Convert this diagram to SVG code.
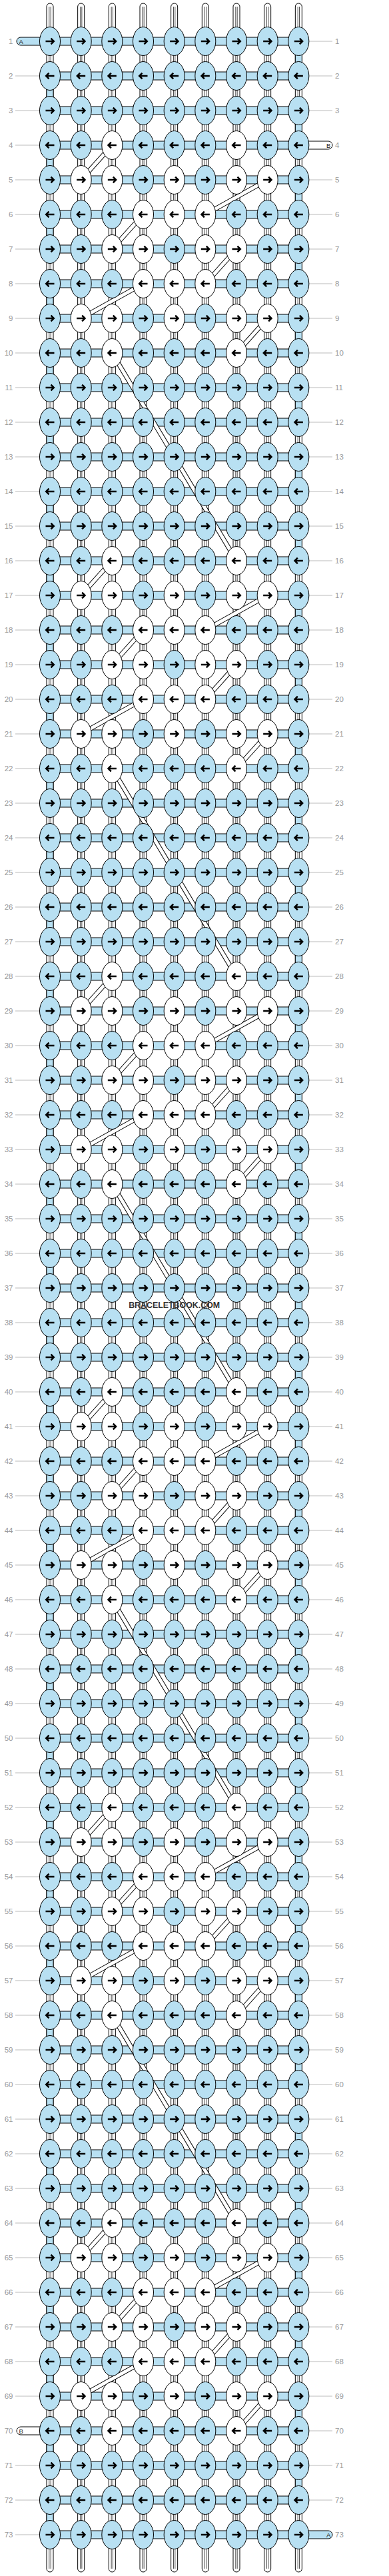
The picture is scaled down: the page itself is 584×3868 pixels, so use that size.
<svg xmlns="http://www.w3.org/2000/svg" xmlns:xlink="http://www.w3.org/1999/xlink" width="584" height="3868" viewBox="0 0 584 3868">
<style>
.kb{fill:#b8e0f2;stroke:#000;stroke-width:1}
.kw{fill:#fff;stroke:#000;stroke-width:1}
.ar{fill:none;stroke:#000;stroke-width:2.5}
.hc{fill:#b8e0f2;stroke:#000;stroke-width:1}
.vs{fill:#fff;stroke:#000;stroke-width:1}
.il{fill:none;stroke:#000;stroke-width:0.7}
.dk{fill:none;stroke:#000;stroke-width:7}
.dw{fill:none;stroke:#fff;stroke-width:5}
.gl{fill:none;stroke:#bbb;stroke-width:1}
.lb{font-family:"Liberation Sans",Arial,sans-serif;font-size:11.5px;fill:#999}
.le{text-anchor:end}
.sl{font-family:"Liberation Sans",Arial,sans-serif;font-size:9.5px;fill:#222}
.wm{font-family:"Liberation Sans",Arial,sans-serif;font-size:13px;font-weight:bold;fill:#333;text-anchor:middle}
</style>
<defs>
<g id="BR"><ellipse rx="15.5" ry="21.5" class="kb"/><path class="ar" d="M-6.5 0H5.5M1.5-4.3L5.8 0 1.5 4.3"/></g>
<g id="BL"><ellipse rx="15.5" ry="21.5" class="kb"/><path class="ar" d="M6.5 0H-5.5M-1.5-4.3L-5.8 0-1.5 4.3"/></g>
<g id="WR"><ellipse rx="15.5" ry="21.5" class="kw"/><path class="ar" d="M-6.5 0H5.5M1.5-4.3L5.8 0 1.5 4.3"/></g>
<g id="WL"><ellipse rx="15.5" ry="21.5" class="kw"/><path class="ar" d="M6.5 0H-5.5M-1.5-4.3L-5.8 0-1.5 4.3"/></g>
<path id="dg" d="M168.33 0L121.67 52M401.67 52L308.33 104M215 104L168.33 156M355 156L308.33 208M215 208L121.67 260M401.67 260L355 312"/>
<path id="dl" d="M168.33 312L355 624"/>
</defs>
<rect width="584" height="3868" fill="#fff"/>
<g id="connectors">
<g id="strands">
<rect x="70" y="5" width="10" height="3857" rx="5" class="vs"/>
<rect x="116.67" y="5" width="10" height="3857" rx="5" class="vs"/>
<rect x="163.33" y="5" width="10" height="3857" rx="5" class="vs"/>
<rect x="210" y="5" width="10" height="3857" rx="5" class="vs"/>
<rect x="256.67" y="5" width="10" height="3857" rx="5" class="vs"/>
<rect x="303.33" y="5" width="10" height="3857" rx="5" class="vs"/>
<rect x="350" y="5" width="10" height="3857" rx="5" class="vs"/>
<rect x="396.67" y="5" width="10" height="3857" rx="5" class="vs"/>
<rect x="443.33" y="5" width="10" height="3857" rx="5" class="vs"/>
<path class="il" d="M73.8 10V3857M76.2 10V3857M120.47 10V3857M122.87 10V3857M167.13 10V3857M169.53 10V3857M213.8 10V3857M216.2 10V3857M260.47 10V3857M262.87 10V3857M307.13 10V3857M309.53 10V3857M353.8 10V3857M356.2 10V3857M400.47 10V3857M402.87 10V3857M447.13 10V3857M449.53 10V3857"/>
</g>
<path id="turns" class="hc" d="M443.33 77h10v22h-10zM443.33 181h10v22h-10zM443.33 285h10v22h-10zM443.33 389h10v22h-10zM443.33 493h10v22h-10zM443.33 597h10v22h-10zM443.33 701h10v22h-10zM443.33 805h10v22h-10zM443.33 909h10v22h-10zM443.33 1013h10v22h-10zM443.33 1117h10v22h-10zM443.33 1221h10v22h-10zM443.33 1325h10v22h-10zM443.33 1429h10v22h-10zM443.33 1533h10v22h-10zM443.33 1637h10v22h-10zM443.33 1741h10v22h-10zM443.33 1845h10v22h-10zM443.33 1949h10v22h-10zM443.33 2053h10v22h-10zM443.33 2157h10v22h-10zM443.33 2261h10v22h-10zM443.33 2365h10v22h-10zM443.33 2469h10v22h-10zM443.33 2573h10v22h-10zM443.33 2677h10v22h-10zM443.33 2781h10v22h-10zM443.33 2885h10v22h-10zM443.33 2989h10v22h-10zM443.33 3093h10v22h-10zM443.33 3197h10v22h-10zM443.33 3301h10v22h-10zM443.33 3405h10v22h-10zM443.33 3509h10v22h-10zM443.33 3613h10v22h-10zM443.33 3717h10v22h-10zM70 129h10v22h-10zM70 233h10v22h-10zM70 337h10v22h-10zM70 441h10v22h-10zM70 545h10v22h-10zM70 649h10v22h-10zM70 753h10v22h-10zM70 857h10v22h-10zM70 961h10v22h-10zM70 1065h10v22h-10zM70 1169h10v22h-10zM70 1273h10v22h-10zM70 1377h10v22h-10zM70 1481h10v22h-10zM70 1585h10v22h-10zM70 1689h10v22h-10zM70 1793h10v22h-10zM70 1897h10v22h-10zM70 2001h10v22h-10zM70 2105h10v22h-10zM70 2209h10v22h-10zM70 2313h10v22h-10zM70 2417h10v22h-10zM70 2521h10v22h-10zM70 2625h10v22h-10zM70 2729h10v22h-10zM70 2833h10v22h-10zM70 2937h10v22h-10zM70 3041h10v22h-10zM70 3145h10v22h-10zM70 3249h10v22h-10zM70 3353h10v22h-10zM70 3457h10v22h-10zM70 3561h10v22h-10zM70 3665h10v22h-10zM70 3769h10v22h-10z"/>
<path id="rows" class="hc" d="M75 56h373.33v12H75zM75 108h373.33v12H75zM75 160h373.33v12H75zM75 212h373.33v12H75zM75 264h373.33v12H75zM75 316h373.33v12H75zM75 368h373.33v12H75zM75 420h373.33v12H75zM75 472h373.33v12H75zM75 524h373.33v12H75zM75 576h373.33v12H75zM75 628h373.33v12H75zM75 680h373.33v12H75zM75 732h373.33v12H75zM75 784h373.33v12H75zM75 836h373.33v12H75zM75 888h373.33v12H75zM75 940h373.33v12H75zM75 992h373.33v12H75zM75 1044h373.33v12H75zM75 1096h373.33v12H75zM75 1148h373.33v12H75zM75 1200h373.33v12H75zM75 1252h373.33v12H75zM75 1304h373.33v12H75zM75 1356h373.33v12H75zM75 1408h373.33v12H75zM75 1460h373.33v12H75zM75 1512h373.33v12H75zM75 1564h373.33v12H75zM75 1616h373.33v12H75zM75 1668h373.33v12H75zM75 1720h373.33v12H75zM75 1772h373.33v12H75zM75 1824h373.33v12H75zM75 1876h373.33v12H75zM75 1928h373.33v12H75zM75 1980h373.33v12H75zM75 2032h373.33v12H75zM75 2084h373.33v12H75zM75 2136h373.33v12H75zM75 2188h373.33v12H75zM75 2240h373.33v12H75zM75 2292h373.33v12H75zM75 2344h373.33v12H75zM75 2396h373.33v12H75zM75 2448h373.33v12H75zM75 2500h373.33v12H75zM75 2552h373.33v12H75zM75 2604h373.33v12H75zM75 2656h373.33v12H75zM75 2708h373.33v12H75zM75 2760h373.33v12H75zM75 2812h373.33v12H75zM75 2864h373.33v12H75zM75 2916h373.33v12H75zM75 2968h373.33v12H75zM75 3020h373.33v12H75zM75 3072h373.33v12H75zM75 3124h373.33v12H75zM75 3176h373.33v12H75zM75 3228h373.33v12H75zM75 3280h373.33v12H75zM75 3332h373.33v12H75zM75 3384h373.33v12H75zM75 3436h373.33v12H75zM75 3488h373.33v12H75zM75 3540h373.33v12H75zM75 3592h373.33v12H75zM75 3644h373.33v12H75zM75 3696h373.33v12H75zM75 3748h373.33v12H75zM75 3800h373.33v12H75z"/>
<g id="stubs">
<rect x="25" y="56" width="45" height="12" rx="6" class="hc"/>
<rect x="455" y="212" width="44" height="12" rx="6" class="vs"/>
<rect x="25" y="3644" width="45" height="12" rx="6" class="vs"/>
<rect x="455" y="3800" width="44" height="12" rx="6" class="hc"/>
</g>
<g id="diagonals">
<use href="#dg" y="218" class="dk"/><use href="#dg" y="842" class="dk"/><use href="#dg" y="1466" class="dk"/><use href="#dg" y="2090" class="dk"/><use href="#dg" y="2714" class="dk"/><use href="#dg" y="3338" class="dk"/>
<use href="#dl" y="218" class="dk"/><use href="#dl" y="842" class="dk"/><use href="#dl" y="1466" class="dk"/><use href="#dl" y="2090" class="dk"/><use href="#dl" y="2714" class="dk"/>
<use href="#dg" y="218" class="dw"/><use href="#dg" y="842" class="dw"/><use href="#dg" y="1466" class="dw"/><use href="#dg" y="2090" class="dw"/><use href="#dg" y="2714" class="dw"/><use href="#dg" y="3338" class="dw"/>
<use href="#dl" y="218" class="dw"/><use href="#dl" y="842" class="dw"/><use href="#dl" y="1466" class="dw"/><use href="#dl" y="2090" class="dw"/><use href="#dl" y="2714" class="dw"/>
</g>
</g>
<g id="labels">
<path class="gl" d="M464 62H499M23 114H60M464 114H499M23 166H60M464 166H499M23 218H60M23 270H60M464 270H499M23 322H60M464 322H499M23 374H60M464 374H499M23 426H60M464 426H499M23 478H60M464 478H499M23 530H60M464 530H499M23 582H60M464 582H499M23 634H60M464 634H499M23 686H60M464 686H499M23 738H60M464 738H499M23 790H60M464 790H499M23 842H60M464 842H499M23 894H60M464 894H499M23 946H60M464 946H499M23 998H60M464 998H499M23 1050H60M464 1050H499M23 1102H60M464 1102H499M23 1154H60M464 1154H499M23 1206H60M464 1206H499M23 1258H60M464 1258H499M23 1310H60M464 1310H499M23 1362H60M464 1362H499M23 1414H60M464 1414H499M23 1466H60M464 1466H499M23 1518H60M464 1518H499M23 1570H60M464 1570H499M23 1622H60M464 1622H499M23 1674H60M464 1674H499M23 1726H60M464 1726H499M23 1778H60M464 1778H499M23 1830H60M464 1830H499M23 1882H60M464 1882H499M23 1934H60M464 1934H499M23 1986H60M464 1986H499M23 2038H60M464 2038H499M23 2090H60M464 2090H499M23 2142H60M464 2142H499M23 2194H60M464 2194H499M23 2246H60M464 2246H499M23 2298H60M464 2298H499M23 2350H60M464 2350H499M23 2402H60M464 2402H499M23 2454H60M464 2454H499M23 2506H60M464 2506H499M23 2558H60M464 2558H499M23 2610H60M464 2610H499M23 2662H60M464 2662H499M23 2714H60M464 2714H499M23 2766H60M464 2766H499M23 2818H60M464 2818H499M23 2870H60M464 2870H499M23 2922H60M464 2922H499M23 2974H60M464 2974H499M23 3026H60M464 3026H499M23 3078H60M464 3078H499M23 3130H60M464 3130H499M23 3182H60M464 3182H499M23 3234H60M464 3234H499M23 3286H60M464 3286H499M23 3338H60M464 3338H499M23 3390H60M464 3390H499M23 3442H60M464 3442H499M23 3494H60M464 3494H499M23 3546H60M464 3546H499M23 3598H60M464 3598H499M464 3650H499M23 3702H60M464 3702H499M23 3754H60M464 3754H499M23 3806H60"/>
<text class="sl" x="28.5" y="65.5">A</text><text class="sl" x="490" y="221.5">B</text><text class="sl" x="28.5" y="3653.5">B</text><text class="sl" x="490" y="3809.5">A</text>
<g class="lb le">
<text x="19.5" y="66">1</text><text x="19.5" y="118">2</text><text x="19.5" y="170">3</text><text x="19.5" y="222">4</text><text x="19.5" y="274">5</text><text x="19.5" y="326">6</text><text x="19.5" y="378">7</text><text x="19.5" y="430">8</text><text x="19.5" y="482">9</text><text x="19.5" y="534">10</text><text x="19.5" y="586">11</text><text x="19.5" y="638">12</text><text x="19.5" y="690">13</text><text x="19.5" y="742">14</text><text x="19.5" y="794">15</text><text x="19.5" y="846">16</text><text x="19.5" y="898">17</text><text x="19.5" y="950">18</text><text x="19.5" y="1002">19</text><text x="19.5" y="1054">20</text><text x="19.5" y="1106">21</text><text x="19.5" y="1158">22</text><text x="19.5" y="1210">23</text><text x="19.5" y="1262">24</text><text x="19.5" y="1314">25</text><text x="19.5" y="1366">26</text><text x="19.5" y="1418">27</text><text x="19.5" y="1470">28</text><text x="19.5" y="1522">29</text><text x="19.5" y="1574">30</text><text x="19.5" y="1626">31</text><text x="19.5" y="1678">32</text><text x="19.5" y="1730">33</text><text x="19.5" y="1782">34</text><text x="19.5" y="1834">35</text><text x="19.5" y="1886">36</text><text x="19.5" y="1938">37</text><text x="19.5" y="1990">38</text><text x="19.5" y="2042">39</text><text x="19.5" y="2094">40</text><text x="19.5" y="2146">41</text><text x="19.5" y="2198">42</text><text x="19.5" y="2250">43</text><text x="19.5" y="2302">44</text><text x="19.5" y="2354">45</text><text x="19.5" y="2406">46</text><text x="19.5" y="2458">47</text><text x="19.5" y="2510">48</text><text x="19.5" y="2562">49</text><text x="19.5" y="2614">50</text><text x="19.5" y="2666">51</text><text x="19.5" y="2718">52</text><text x="19.5" y="2770">53</text><text x="19.5" y="2822">54</text><text x="19.5" y="2874">55</text><text x="19.5" y="2926">56</text><text x="19.5" y="2978">57</text><text x="19.5" y="3030">58</text><text x="19.5" y="3082">59</text><text x="19.5" y="3134">60</text><text x="19.5" y="3186">61</text><text x="19.5" y="3238">62</text><text x="19.5" y="3290">63</text><text x="19.5" y="3342">64</text><text x="19.5" y="3394">65</text><text x="19.5" y="3446">66</text><text x="19.5" y="3498">67</text><text x="19.5" y="3550">68</text><text x="19.5" y="3602">69</text><text x="19.5" y="3654">70</text><text x="19.5" y="3706">71</text><text x="19.5" y="3758">72</text><text x="19.5" y="3810">73</text>
</g>
<g class="lb">
<text x="503" y="66">1</text><text x="503" y="118">2</text><text x="503" y="170">3</text><text x="503" y="222">4</text><text x="503" y="274">5</text><text x="503" y="326">6</text><text x="503" y="378">7</text><text x="503" y="430">8</text><text x="503" y="482">9</text><text x="503" y="534">10</text><text x="503" y="586">11</text><text x="503" y="638">12</text><text x="503" y="690">13</text><text x="503" y="742">14</text><text x="503" y="794">15</text><text x="503" y="846">16</text><text x="503" y="898">17</text><text x="503" y="950">18</text><text x="503" y="1002">19</text><text x="503" y="1054">20</text><text x="503" y="1106">21</text><text x="503" y="1158">22</text><text x="503" y="1210">23</text><text x="503" y="1262">24</text><text x="503" y="1314">25</text><text x="503" y="1366">26</text><text x="503" y="1418">27</text><text x="503" y="1470">28</text><text x="503" y="1522">29</text><text x="503" y="1574">30</text><text x="503" y="1626">31</text><text x="503" y="1678">32</text><text x="503" y="1730">33</text><text x="503" y="1782">34</text><text x="503" y="1834">35</text><text x="503" y="1886">36</text><text x="503" y="1938">37</text><text x="503" y="1990">38</text><text x="503" y="2042">39</text><text x="503" y="2094">40</text><text x="503" y="2146">41</text><text x="503" y="2198">42</text><text x="503" y="2250">43</text><text x="503" y="2302">44</text><text x="503" y="2354">45</text><text x="503" y="2406">46</text><text x="503" y="2458">47</text><text x="503" y="2510">48</text><text x="503" y="2562">49</text><text x="503" y="2614">50</text><text x="503" y="2666">51</text><text x="503" y="2718">52</text><text x="503" y="2770">53</text><text x="503" y="2822">54</text><text x="503" y="2874">55</text><text x="503" y="2926">56</text><text x="503" y="2978">57</text><text x="503" y="3030">58</text><text x="503" y="3082">59</text><text x="503" y="3134">60</text><text x="503" y="3186">61</text><text x="503" y="3238">62</text><text x="503" y="3290">63</text><text x="503" y="3342">64</text><text x="503" y="3394">65</text><text x="503" y="3446">66</text><text x="503" y="3498">67</text><text x="503" y="3550">68</text><text x="503" y="3602">69</text><text x="503" y="3654">70</text><text x="503" y="3706">71</text><text x="503" y="3758">72</text><text x="503" y="3810">73</text>
</g>
</g>
<g id="knots">
<g id="row1" transform="translate(0 62)"><g id="k1-1"><use href="#BR" x="75"/></g><g id="k1-2"><use href="#BR" x="121.67"/></g><g id="k1-3"><use href="#BR" x="168.33"/></g><g id="k1-4"><use href="#BR" x="215"/></g><g id="k1-5"><use href="#BR" x="261.67"/></g><g id="k1-6"><use href="#BR" x="308.33"/></g><g id="k1-7"><use href="#BR" x="355"/></g><g id="k1-8"><use href="#BR" x="401.67"/></g><g id="k1-9"><use href="#BR" x="448.33"/></g></g>
<g id="row2" transform="translate(0 114)"><g id="k2-1"><use href="#BL" x="75"/></g><g id="k2-2"><use href="#BL" x="121.67"/></g><g id="k2-3"><use href="#BL" x="168.33"/></g><g id="k2-4"><use href="#BL" x="215"/></g><g id="k2-5"><use href="#BL" x="261.67"/></g><g id="k2-6"><use href="#BL" x="308.33"/></g><g id="k2-7"><use href="#BL" x="355"/></g><g id="k2-8"><use href="#BL" x="401.67"/></g><g id="k2-9"><use href="#BL" x="448.33"/></g></g>
<g id="row3" transform="translate(0 166)"><g id="k3-1"><use href="#BR" x="75"/></g><g id="k3-2"><use href="#BR" x="121.67"/></g><g id="k3-3"><use href="#BR" x="168.33"/></g><g id="k3-4"><use href="#BR" x="215"/></g><g id="k3-5"><use href="#BR" x="261.67"/></g><g id="k3-6"><use href="#BR" x="308.33"/></g><g id="k3-7"><use href="#BR" x="355"/></g><g id="k3-8"><use href="#BR" x="401.67"/></g><g id="k3-9"><use href="#BR" x="448.33"/></g></g>
<g id="row4" transform="translate(0 218)"><g id="k4-1"><use href="#BL" x="75"/></g><g id="k4-2"><use href="#BL" x="121.67"/></g><g id="k4-3"><use href="#WL" x="168.33"/></g><g id="k4-4"><use href="#BL" x="215"/></g><g id="k4-5"><use href="#BL" x="261.67"/></g><g id="k4-6"><use href="#BL" x="308.33"/></g><g id="k4-7"><use href="#WL" x="355"/></g><g id="k4-8"><use href="#BL" x="401.67"/></g><g id="k4-9"><use href="#BL" x="448.33"/></g></g>
<g id="row5" transform="translate(0 270)"><g id="k5-1"><use href="#BR" x="75"/></g><g id="k5-2"><use href="#WR" x="121.67"/></g><g id="k5-3"><use href="#WR" x="168.33"/></g><g id="k5-4"><use href="#BR" x="215"/></g><g id="k5-5"><use href="#WR" x="261.67"/></g><g id="k5-6"><use href="#BR" x="308.33"/></g><g id="k5-7"><use href="#WR" x="355"/></g><g id="k5-8"><use href="#WR" x="401.67"/></g><g id="k5-9"><use href="#BR" x="448.33"/></g></g>
<g id="row6" transform="translate(0 322)"><g id="k6-1"><use href="#BL" x="75"/></g><g id="k6-2"><use href="#BL" x="121.67"/></g><g id="k6-3"><use href="#BL" x="168.33"/></g><g id="k6-4"><use href="#WL" x="215"/></g><g id="k6-5"><use href="#WL" x="261.67"/></g><g id="k6-6"><use href="#WL" x="308.33"/></g><g id="k6-7"><use href="#BL" x="355"/></g><g id="k6-8"><use href="#BL" x="401.67"/></g><g id="k6-9"><use href="#BL" x="448.33"/></g></g>
<g id="row7" transform="translate(0 374)"><g id="k7-1"><use href="#BR" x="75"/></g><g id="k7-2"><use href="#BR" x="121.67"/></g><g id="k7-3"><use href="#WR" x="168.33"/></g><g id="k7-4"><use href="#WR" x="215"/></g><g id="k7-5"><use href="#BR" x="261.67"/></g><g id="k7-6"><use href="#WR" x="308.33"/></g><g id="k7-7"><use href="#WR" x="355"/></g><g id="k7-8"><use href="#BR" x="401.67"/></g><g id="k7-9"><use href="#BR" x="448.33"/></g></g>
<g id="row8" transform="translate(0 426)"><g id="k8-1"><use href="#BL" x="75"/></g><g id="k8-2"><use href="#BL" x="121.67"/></g><g id="k8-3"><use href="#BL" x="168.33"/></g><g id="k8-4"><use href="#WL" x="215"/></g><g id="k8-5"><use href="#WL" x="261.67"/></g><g id="k8-6"><use href="#WL" x="308.33"/></g><g id="k8-7"><use href="#BL" x="355"/></g><g id="k8-8"><use href="#BL" x="401.67"/></g><g id="k8-9"><use href="#BL" x="448.33"/></g></g>
<g id="row9" transform="translate(0 478)"><g id="k9-1"><use href="#BR" x="75"/></g><g id="k9-2"><use href="#WR" x="121.67"/></g><g id="k9-3"><use href="#WR" x="168.33"/></g><g id="k9-4"><use href="#BR" x="215"/></g><g id="k9-5"><use href="#WR" x="261.67"/></g><g id="k9-6"><use href="#BR" x="308.33"/></g><g id="k9-7"><use href="#WR" x="355"/></g><g id="k9-8"><use href="#WR" x="401.67"/></g><g id="k9-9"><use href="#BR" x="448.33"/></g></g>
<g id="row10" transform="translate(0 530)"><g id="k10-1"><use href="#BL" x="75"/></g><g id="k10-2"><use href="#BL" x="121.67"/></g><g id="k10-3"><use href="#WL" x="168.33"/></g><g id="k10-4"><use href="#BL" x="215"/></g><g id="k10-5"><use href="#BL" x="261.67"/></g><g id="k10-6"><use href="#BL" x="308.33"/></g><g id="k10-7"><use href="#WL" x="355"/></g><g id="k10-8"><use href="#BL" x="401.67"/></g><g id="k10-9"><use href="#BL" x="448.33"/></g></g>
<g id="row11" transform="translate(0 582)"><g id="k11-1"><use href="#BR" x="75"/></g><g id="k11-2"><use href="#BR" x="121.67"/></g><g id="k11-3"><use href="#BR" x="168.33"/></g><g id="k11-4"><use href="#BR" x="215"/></g><g id="k11-5"><use href="#BR" x="261.67"/></g><g id="k11-6"><use href="#BR" x="308.33"/></g><g id="k11-7"><use href="#BR" x="355"/></g><g id="k11-8"><use href="#BR" x="401.67"/></g><g id="k11-9"><use href="#BR" x="448.33"/></g></g>
<g id="row12" transform="translate(0 634)"><g id="k12-1"><use href="#BL" x="75"/></g><g id="k12-2"><use href="#BL" x="121.67"/></g><g id="k12-3"><use href="#BL" x="168.33"/></g><g id="k12-4"><use href="#BL" x="215"/></g><g id="k12-5"><use href="#BL" x="261.67"/></g><g id="k12-6"><use href="#BL" x="308.33"/></g><g id="k12-7"><use href="#BL" x="355"/></g><g id="k12-8"><use href="#BL" x="401.67"/></g><g id="k12-9"><use href="#BL" x="448.33"/></g></g>
<g id="row13" transform="translate(0 686)"><g id="k13-1"><use href="#BR" x="75"/></g><g id="k13-2"><use href="#BR" x="121.67"/></g><g id="k13-3"><use href="#BR" x="168.33"/></g><g id="k13-4"><use href="#BR" x="215"/></g><g id="k13-5"><use href="#BR" x="261.67"/></g><g id="k13-6"><use href="#BR" x="308.33"/></g><g id="k13-7"><use href="#BR" x="355"/></g><g id="k13-8"><use href="#BR" x="401.67"/></g><g id="k13-9"><use href="#BR" x="448.33"/></g></g>
<g id="row14" transform="translate(0 738)"><g id="k14-1"><use href="#BL" x="75"/></g><g id="k14-2"><use href="#BL" x="121.67"/></g><g id="k14-3"><use href="#BL" x="168.33"/></g><g id="k14-4"><use href="#BL" x="215"/></g><g id="k14-5"><use href="#BL" x="261.67"/></g><g id="k14-6"><use href="#BL" x="308.33"/></g><g id="k14-7"><use href="#BL" x="355"/></g><g id="k14-8"><use href="#BL" x="401.67"/></g><g id="k14-9"><use href="#BL" x="448.33"/></g></g>
<g id="row15" transform="translate(0 790)"><g id="k15-1"><use href="#BR" x="75"/></g><g id="k15-2"><use href="#BR" x="121.67"/></g><g id="k15-3"><use href="#BR" x="168.33"/></g><g id="k15-4"><use href="#BR" x="215"/></g><g id="k15-5"><use href="#BR" x="261.67"/></g><g id="k15-6"><use href="#BR" x="308.33"/></g><g id="k15-7"><use href="#BR" x="355"/></g><g id="k15-8"><use href="#BR" x="401.67"/></g><g id="k15-9"><use href="#BR" x="448.33"/></g></g>
<g id="row16" transform="translate(0 842)"><g id="k16-1"><use href="#BL" x="75"/></g><g id="k16-2"><use href="#BL" x="121.67"/></g><g id="k16-3"><use href="#WL" x="168.33"/></g><g id="k16-4"><use href="#BL" x="215"/></g><g id="k16-5"><use href="#BL" x="261.67"/></g><g id="k16-6"><use href="#BL" x="308.33"/></g><g id="k16-7"><use href="#WL" x="355"/></g><g id="k16-8"><use href="#BL" x="401.67"/></g><g id="k16-9"><use href="#BL" x="448.33"/></g></g>
<g id="row17" transform="translate(0 894)"><g id="k17-1"><use href="#BR" x="75"/></g><g id="k17-2"><use href="#WR" x="121.67"/></g><g id="k17-3"><use href="#WR" x="168.33"/></g><g id="k17-4"><use href="#BR" x="215"/></g><g id="k17-5"><use href="#WR" x="261.67"/></g><g id="k17-6"><use href="#BR" x="308.33"/></g><g id="k17-7"><use href="#WR" x="355"/></g><g id="k17-8"><use href="#WR" x="401.67"/></g><g id="k17-9"><use href="#BR" x="448.33"/></g></g>
<g id="row18" transform="translate(0 946)"><g id="k18-1"><use href="#BL" x="75"/></g><g id="k18-2"><use href="#BL" x="121.67"/></g><g id="k18-3"><use href="#BL" x="168.33"/></g><g id="k18-4"><use href="#WL" x="215"/></g><g id="k18-5"><use href="#WL" x="261.67"/></g><g id="k18-6"><use href="#WL" x="308.33"/></g><g id="k18-7"><use href="#BL" x="355"/></g><g id="k18-8"><use href="#BL" x="401.67"/></g><g id="k18-9"><use href="#BL" x="448.33"/></g></g>
<g id="row19" transform="translate(0 998)"><g id="k19-1"><use href="#BR" x="75"/></g><g id="k19-2"><use href="#BR" x="121.67"/></g><g id="k19-3"><use href="#WR" x="168.33"/></g><g id="k19-4"><use href="#WR" x="215"/></g><g id="k19-5"><use href="#BR" x="261.67"/></g><g id="k19-6"><use href="#WR" x="308.33"/></g><g id="k19-7"><use href="#WR" x="355"/></g><g id="k19-8"><use href="#BR" x="401.67"/></g><g id="k19-9"><use href="#BR" x="448.33"/></g></g>
<g id="row20" transform="translate(0 1050)"><g id="k20-1"><use href="#BL" x="75"/></g><g id="k20-2"><use href="#BL" x="121.67"/></g><g id="k20-3"><use href="#BL" x="168.33"/></g><g id="k20-4"><use href="#WL" x="215"/></g><g id="k20-5"><use href="#WL" x="261.67"/></g><g id="k20-6"><use href="#WL" x="308.33"/></g><g id="k20-7"><use href="#BL" x="355"/></g><g id="k20-8"><use href="#BL" x="401.67"/></g><g id="k20-9"><use href="#BL" x="448.33"/></g></g>
<g id="row21" transform="translate(0 1102)"><g id="k21-1"><use href="#BR" x="75"/></g><g id="k21-2"><use href="#WR" x="121.67"/></g><g id="k21-3"><use href="#WR" x="168.33"/></g><g id="k21-4"><use href="#BR" x="215"/></g><g id="k21-5"><use href="#WR" x="261.67"/></g><g id="k21-6"><use href="#BR" x="308.33"/></g><g id="k21-7"><use href="#WR" x="355"/></g><g id="k21-8"><use href="#WR" x="401.67"/></g><g id="k21-9"><use href="#BR" x="448.33"/></g></g>
<g id="row22" transform="translate(0 1154)"><g id="k22-1"><use href="#BL" x="75"/></g><g id="k22-2"><use href="#BL" x="121.67"/></g><g id="k22-3"><use href="#WL" x="168.33"/></g><g id="k22-4"><use href="#BL" x="215"/></g><g id="k22-5"><use href="#BL" x="261.67"/></g><g id="k22-6"><use href="#BL" x="308.33"/></g><g id="k22-7"><use href="#WL" x="355"/></g><g id="k22-8"><use href="#BL" x="401.67"/></g><g id="k22-9"><use href="#BL" x="448.33"/></g></g>
<g id="row23" transform="translate(0 1206)"><g id="k23-1"><use href="#BR" x="75"/></g><g id="k23-2"><use href="#BR" x="121.67"/></g><g id="k23-3"><use href="#BR" x="168.33"/></g><g id="k23-4"><use href="#BR" x="215"/></g><g id="k23-5"><use href="#BR" x="261.67"/></g><g id="k23-6"><use href="#BR" x="308.33"/></g><g id="k23-7"><use href="#BR" x="355"/></g><g id="k23-8"><use href="#BR" x="401.67"/></g><g id="k23-9"><use href="#BR" x="448.33"/></g></g>
<g id="row24" transform="translate(0 1258)"><g id="k24-1"><use href="#BL" x="75"/></g><g id="k24-2"><use href="#BL" x="121.67"/></g><g id="k24-3"><use href="#BL" x="168.33"/></g><g id="k24-4"><use href="#BL" x="215"/></g><g id="k24-5"><use href="#BL" x="261.67"/></g><g id="k24-6"><use href="#BL" x="308.33"/></g><g id="k24-7"><use href="#BL" x="355"/></g><g id="k24-8"><use href="#BL" x="401.67"/></g><g id="k24-9"><use href="#BL" x="448.33"/></g></g>
<g id="row25" transform="translate(0 1310)"><g id="k25-1"><use href="#BR" x="75"/></g><g id="k25-2"><use href="#BR" x="121.67"/></g><g id="k25-3"><use href="#BR" x="168.33"/></g><g id="k25-4"><use href="#BR" x="215"/></g><g id="k25-5"><use href="#BR" x="261.67"/></g><g id="k25-6"><use href="#BR" x="308.33"/></g><g id="k25-7"><use href="#BR" x="355"/></g><g id="k25-8"><use href="#BR" x="401.67"/></g><g id="k25-9"><use href="#BR" x="448.33"/></g></g>
<g id="row26" transform="translate(0 1362)"><g id="k26-1"><use href="#BL" x="75"/></g><g id="k26-2"><use href="#BL" x="121.67"/></g><g id="k26-3"><use href="#BL" x="168.33"/></g><g id="k26-4"><use href="#BL" x="215"/></g><g id="k26-5"><use href="#BL" x="261.67"/></g><g id="k26-6"><use href="#BL" x="308.33"/></g><g id="k26-7"><use href="#BL" x="355"/></g><g id="k26-8"><use href="#BL" x="401.67"/></g><g id="k26-9"><use href="#BL" x="448.33"/></g></g>
<g id="row27" transform="translate(0 1414)"><g id="k27-1"><use href="#BR" x="75"/></g><g id="k27-2"><use href="#BR" x="121.67"/></g><g id="k27-3"><use href="#BR" x="168.33"/></g><g id="k27-4"><use href="#BR" x="215"/></g><g id="k27-5"><use href="#BR" x="261.67"/></g><g id="k27-6"><use href="#BR" x="308.33"/></g><g id="k27-7"><use href="#BR" x="355"/></g><g id="k27-8"><use href="#BR" x="401.67"/></g><g id="k27-9"><use href="#BR" x="448.33"/></g></g>
<g id="row28" transform="translate(0 1466)"><g id="k28-1"><use href="#BL" x="75"/></g><g id="k28-2"><use href="#BL" x="121.67"/></g><g id="k28-3"><use href="#WL" x="168.33"/></g><g id="k28-4"><use href="#BL" x="215"/></g><g id="k28-5"><use href="#BL" x="261.67"/></g><g id="k28-6"><use href="#BL" x="308.33"/></g><g id="k28-7"><use href="#WL" x="355"/></g><g id="k28-8"><use href="#BL" x="401.67"/></g><g id="k28-9"><use href="#BL" x="448.33"/></g></g>
<g id="row29" transform="translate(0 1518)"><g id="k29-1"><use href="#BR" x="75"/></g><g id="k29-2"><use href="#WR" x="121.67"/></g><g id="k29-3"><use href="#WR" x="168.33"/></g><g id="k29-4"><use href="#BR" x="215"/></g><g id="k29-5"><use href="#WR" x="261.67"/></g><g id="k29-6"><use href="#BR" x="308.33"/></g><g id="k29-7"><use href="#WR" x="355"/></g><g id="k29-8"><use href="#WR" x="401.67"/></g><g id="k29-9"><use href="#BR" x="448.33"/></g></g>
<g id="row30" transform="translate(0 1570)"><g id="k30-1"><use href="#BL" x="75"/></g><g id="k30-2"><use href="#BL" x="121.67"/></g><g id="k30-3"><use href="#BL" x="168.33"/></g><g id="k30-4"><use href="#WL" x="215"/></g><g id="k30-5"><use href="#WL" x="261.67"/></g><g id="k30-6"><use href="#WL" x="308.33"/></g><g id="k30-7"><use href="#BL" x="355"/></g><g id="k30-8"><use href="#BL" x="401.67"/></g><g id="k30-9"><use href="#BL" x="448.33"/></g></g>
<g id="row31" transform="translate(0 1622)"><g id="k31-1"><use href="#BR" x="75"/></g><g id="k31-2"><use href="#BR" x="121.67"/></g><g id="k31-3"><use href="#WR" x="168.33"/></g><g id="k31-4"><use href="#WR" x="215"/></g><g id="k31-5"><use href="#BR" x="261.67"/></g><g id="k31-6"><use href="#WR" x="308.33"/></g><g id="k31-7"><use href="#WR" x="355"/></g><g id="k31-8"><use href="#BR" x="401.67"/></g><g id="k31-9"><use href="#BR" x="448.33"/></g></g>
<g id="row32" transform="translate(0 1674)"><g id="k32-1"><use href="#BL" x="75"/></g><g id="k32-2"><use href="#BL" x="121.67"/></g><g id="k32-3"><use href="#BL" x="168.33"/></g><g id="k32-4"><use href="#WL" x="215"/></g><g id="k32-5"><use href="#WL" x="261.67"/></g><g id="k32-6"><use href="#WL" x="308.33"/></g><g id="k32-7"><use href="#BL" x="355"/></g><g id="k32-8"><use href="#BL" x="401.67"/></g><g id="k32-9"><use href="#BL" x="448.33"/></g></g>
<g id="row33" transform="translate(0 1726)"><g id="k33-1"><use href="#BR" x="75"/></g><g id="k33-2"><use href="#WR" x="121.67"/></g><g id="k33-3"><use href="#WR" x="168.33"/></g><g id="k33-4"><use href="#BR" x="215"/></g><g id="k33-5"><use href="#WR" x="261.67"/></g><g id="k33-6"><use href="#BR" x="308.33"/></g><g id="k33-7"><use href="#WR" x="355"/></g><g id="k33-8"><use href="#WR" x="401.67"/></g><g id="k33-9"><use href="#BR" x="448.33"/></g></g>
<g id="row34" transform="translate(0 1778)"><g id="k34-1"><use href="#BL" x="75"/></g><g id="k34-2"><use href="#BL" x="121.67"/></g><g id="k34-3"><use href="#WL" x="168.33"/></g><g id="k34-4"><use href="#BL" x="215"/></g><g id="k34-5"><use href="#BL" x="261.67"/></g><g id="k34-6"><use href="#BL" x="308.33"/></g><g id="k34-7"><use href="#WL" x="355"/></g><g id="k34-8"><use href="#BL" x="401.67"/></g><g id="k34-9"><use href="#BL" x="448.33"/></g></g>
<g id="row35" transform="translate(0 1830)"><g id="k35-1"><use href="#BR" x="75"/></g><g id="k35-2"><use href="#BR" x="121.67"/></g><g id="k35-3"><use href="#BR" x="168.33"/></g><g id="k35-4"><use href="#BR" x="215"/></g><g id="k35-5"><use href="#BR" x="261.67"/></g><g id="k35-6"><use href="#BR" x="308.33"/></g><g id="k35-7"><use href="#BR" x="355"/></g><g id="k35-8"><use href="#BR" x="401.67"/></g><g id="k35-9"><use href="#BR" x="448.33"/></g></g>
<g id="row36" transform="translate(0 1882)"><g id="k36-1"><use href="#BL" x="75"/></g><g id="k36-2"><use href="#BL" x="121.67"/></g><g id="k36-3"><use href="#BL" x="168.33"/></g><g id="k36-4"><use href="#BL" x="215"/></g><g id="k36-5"><use href="#BL" x="261.67"/></g><g id="k36-6"><use href="#BL" x="308.33"/></g><g id="k36-7"><use href="#BL" x="355"/></g><g id="k36-8"><use href="#BL" x="401.67"/></g><g id="k36-9"><use href="#BL" x="448.33"/></g></g>
<g id="row37" transform="translate(0 1934)"><g id="k37-1"><use href="#BR" x="75"/></g><g id="k37-2"><use href="#BR" x="121.67"/></g><g id="k37-3"><use href="#BR" x="168.33"/></g><g id="k37-4"><use href="#BR" x="215"/></g><g id="k37-5"><use href="#BR" x="261.67"/></g><g id="k37-6"><use href="#BR" x="308.33"/></g><g id="k37-7"><use href="#BR" x="355"/></g><g id="k37-8"><use href="#BR" x="401.67"/></g><g id="k37-9"><use href="#BR" x="448.33"/></g></g>
<g id="row38" transform="translate(0 1986)"><g id="k38-1"><use href="#BL" x="75"/></g><g id="k38-2"><use href="#BL" x="121.67"/></g><g id="k38-3"><use href="#BL" x="168.33"/></g><g id="k38-4"><use href="#BL" x="215"/></g><g id="k38-5"><use href="#BL" x="261.67"/></g><g id="k38-6"><use href="#BL" x="308.33"/></g><g id="k38-7"><use href="#BL" x="355"/></g><g id="k38-8"><use href="#BL" x="401.67"/></g><g id="k38-9"><use href="#BL" x="448.33"/></g></g>
<g id="row39" transform="translate(0 2038)"><g id="k39-1"><use href="#BR" x="75"/></g><g id="k39-2"><use href="#BR" x="121.67"/></g><g id="k39-3"><use href="#BR" x="168.33"/></g><g id="k39-4"><use href="#BR" x="215"/></g><g id="k39-5"><use href="#BR" x="261.67"/></g><g id="k39-6"><use href="#BR" x="308.33"/></g><g id="k39-7"><use href="#BR" x="355"/></g><g id="k39-8"><use href="#BR" x="401.67"/></g><g id="k39-9"><use href="#BR" x="448.33"/></g></g>
<g id="row40" transform="translate(0 2090)"><g id="k40-1"><use href="#BL" x="75"/></g><g id="k40-2"><use href="#BL" x="121.67"/></g><g id="k40-3"><use href="#WL" x="168.33"/></g><g id="k40-4"><use href="#BL" x="215"/></g><g id="k40-5"><use href="#BL" x="261.67"/></g><g id="k40-6"><use href="#BL" x="308.33"/></g><g id="k40-7"><use href="#WL" x="355"/></g><g id="k40-8"><use href="#BL" x="401.67"/></g><g id="k40-9"><use href="#BL" x="448.33"/></g></g>
<g id="row41" transform="translate(0 2142)"><g id="k41-1"><use href="#BR" x="75"/></g><g id="k41-2"><use href="#WR" x="121.67"/></g><g id="k41-3"><use href="#WR" x="168.33"/></g><g id="k41-4"><use href="#BR" x="215"/></g><g id="k41-5"><use href="#WR" x="261.67"/></g><g id="k41-6"><use href="#BR" x="308.33"/></g><g id="k41-7"><use href="#WR" x="355"/></g><g id="k41-8"><use href="#WR" x="401.67"/></g><g id="k41-9"><use href="#BR" x="448.33"/></g></g>
<g id="row42" transform="translate(0 2194)"><g id="k42-1"><use href="#BL" x="75"/></g><g id="k42-2"><use href="#BL" x="121.67"/></g><g id="k42-3"><use href="#BL" x="168.33"/></g><g id="k42-4"><use href="#WL" x="215"/></g><g id="k42-5"><use href="#WL" x="261.67"/></g><g id="k42-6"><use href="#WL" x="308.33"/></g><g id="k42-7"><use href="#BL" x="355"/></g><g id="k42-8"><use href="#BL" x="401.67"/></g><g id="k42-9"><use href="#BL" x="448.33"/></g></g>
<g id="row43" transform="translate(0 2246)"><g id="k43-1"><use href="#BR" x="75"/></g><g id="k43-2"><use href="#BR" x="121.67"/></g><g id="k43-3"><use href="#WR" x="168.33"/></g><g id="k43-4"><use href="#WR" x="215"/></g><g id="k43-5"><use href="#BR" x="261.67"/></g><g id="k43-6"><use href="#WR" x="308.33"/></g><g id="k43-7"><use href="#WR" x="355"/></g><g id="k43-8"><use href="#BR" x="401.67"/></g><g id="k43-9"><use href="#BR" x="448.33"/></g></g>
<g id="row44" transform="translate(0 2298)"><g id="k44-1"><use href="#BL" x="75"/></g><g id="k44-2"><use href="#BL" x="121.67"/></g><g id="k44-3"><use href="#BL" x="168.33"/></g><g id="k44-4"><use href="#WL" x="215"/></g><g id="k44-5"><use href="#WL" x="261.67"/></g><g id="k44-6"><use href="#WL" x="308.33"/></g><g id="k44-7"><use href="#BL" x="355"/></g><g id="k44-8"><use href="#BL" x="401.67"/></g><g id="k44-9"><use href="#BL" x="448.33"/></g></g>
<g id="row45" transform="translate(0 2350)"><g id="k45-1"><use href="#BR" x="75"/></g><g id="k45-2"><use href="#WR" x="121.67"/></g><g id="k45-3"><use href="#WR" x="168.33"/></g><g id="k45-4"><use href="#BR" x="215"/></g><g id="k45-5"><use href="#WR" x="261.67"/></g><g id="k45-6"><use href="#BR" x="308.33"/></g><g id="k45-7"><use href="#WR" x="355"/></g><g id="k45-8"><use href="#WR" x="401.67"/></g><g id="k45-9"><use href="#BR" x="448.33"/></g></g>
<g id="row46" transform="translate(0 2402)"><g id="k46-1"><use href="#BL" x="75"/></g><g id="k46-2"><use href="#BL" x="121.67"/></g><g id="k46-3"><use href="#WL" x="168.33"/></g><g id="k46-4"><use href="#BL" x="215"/></g><g id="k46-5"><use href="#BL" x="261.67"/></g><g id="k46-6"><use href="#BL" x="308.33"/></g><g id="k46-7"><use href="#WL" x="355"/></g><g id="k46-8"><use href="#BL" x="401.67"/></g><g id="k46-9"><use href="#BL" x="448.33"/></g></g>
<g id="row47" transform="translate(0 2454)"><g id="k47-1"><use href="#BR" x="75"/></g><g id="k47-2"><use href="#BR" x="121.67"/></g><g id="k47-3"><use href="#BR" x="168.33"/></g><g id="k47-4"><use href="#BR" x="215"/></g><g id="k47-5"><use href="#BR" x="261.67"/></g><g id="k47-6"><use href="#BR" x="308.33"/></g><g id="k47-7"><use href="#BR" x="355"/></g><g id="k47-8"><use href="#BR" x="401.67"/></g><g id="k47-9"><use href="#BR" x="448.33"/></g></g>
<g id="row48" transform="translate(0 2506)"><g id="k48-1"><use href="#BL" x="75"/></g><g id="k48-2"><use href="#BL" x="121.67"/></g><g id="k48-3"><use href="#BL" x="168.33"/></g><g id="k48-4"><use href="#BL" x="215"/></g><g id="k48-5"><use href="#BL" x="261.67"/></g><g id="k48-6"><use href="#BL" x="308.33"/></g><g id="k48-7"><use href="#BL" x="355"/></g><g id="k48-8"><use href="#BL" x="401.67"/></g><g id="k48-9"><use href="#BL" x="448.33"/></g></g>
<g id="row49" transform="translate(0 2558)"><g id="k49-1"><use href="#BR" x="75"/></g><g id="k49-2"><use href="#BR" x="121.67"/></g><g id="k49-3"><use href="#BR" x="168.33"/></g><g id="k49-4"><use href="#BR" x="215"/></g><g id="k49-5"><use href="#BR" x="261.67"/></g><g id="k49-6"><use href="#BR" x="308.33"/></g><g id="k49-7"><use href="#BR" x="355"/></g><g id="k49-8"><use href="#BR" x="401.67"/></g><g id="k49-9"><use href="#BR" x="448.33"/></g></g>
<g id="row50" transform="translate(0 2610)"><g id="k50-1"><use href="#BL" x="75"/></g><g id="k50-2"><use href="#BL" x="121.67"/></g><g id="k50-3"><use href="#BL" x="168.33"/></g><g id="k50-4"><use href="#BL" x="215"/></g><g id="k50-5"><use href="#BL" x="261.67"/></g><g id="k50-6"><use href="#BL" x="308.33"/></g><g id="k50-7"><use href="#BL" x="355"/></g><g id="k50-8"><use href="#BL" x="401.67"/></g><g id="k50-9"><use href="#BL" x="448.33"/></g></g>
<g id="row51" transform="translate(0 2662)"><g id="k51-1"><use href="#BR" x="75"/></g><g id="k51-2"><use href="#BR" x="121.67"/></g><g id="k51-3"><use href="#BR" x="168.33"/></g><g id="k51-4"><use href="#BR" x="215"/></g><g id="k51-5"><use href="#BR" x="261.67"/></g><g id="k51-6"><use href="#BR" x="308.33"/></g><g id="k51-7"><use href="#BR" x="355"/></g><g id="k51-8"><use href="#BR" x="401.67"/></g><g id="k51-9"><use href="#BR" x="448.33"/></g></g>
<g id="row52" transform="translate(0 2714)"><g id="k52-1"><use href="#BL" x="75"/></g><g id="k52-2"><use href="#BL" x="121.67"/></g><g id="k52-3"><use href="#WL" x="168.33"/></g><g id="k52-4"><use href="#BL" x="215"/></g><g id="k52-5"><use href="#BL" x="261.67"/></g><g id="k52-6"><use href="#BL" x="308.33"/></g><g id="k52-7"><use href="#WL" x="355"/></g><g id="k52-8"><use href="#BL" x="401.67"/></g><g id="k52-9"><use href="#BL" x="448.33"/></g></g>
<g id="row53" transform="translate(0 2766)"><g id="k53-1"><use href="#BR" x="75"/></g><g id="k53-2"><use href="#WR" x="121.67"/></g><g id="k53-3"><use href="#WR" x="168.33"/></g><g id="k53-4"><use href="#BR" x="215"/></g><g id="k53-5"><use href="#WR" x="261.67"/></g><g id="k53-6"><use href="#BR" x="308.33"/></g><g id="k53-7"><use href="#WR" x="355"/></g><g id="k53-8"><use href="#WR" x="401.67"/></g><g id="k53-9"><use href="#BR" x="448.33"/></g></g>
<g id="row54" transform="translate(0 2818)"><g id="k54-1"><use href="#BL" x="75"/></g><g id="k54-2"><use href="#BL" x="121.67"/></g><g id="k54-3"><use href="#BL" x="168.33"/></g><g id="k54-4"><use href="#WL" x="215"/></g><g id="k54-5"><use href="#WL" x="261.67"/></g><g id="k54-6"><use href="#WL" x="308.33"/></g><g id="k54-7"><use href="#BL" x="355"/></g><g id="k54-8"><use href="#BL" x="401.67"/></g><g id="k54-9"><use href="#BL" x="448.33"/></g></g>
<g id="row55" transform="translate(0 2870)"><g id="k55-1"><use href="#BR" x="75"/></g><g id="k55-2"><use href="#BR" x="121.67"/></g><g id="k55-3"><use href="#WR" x="168.33"/></g><g id="k55-4"><use href="#WR" x="215"/></g><g id="k55-5"><use href="#BR" x="261.67"/></g><g id="k55-6"><use href="#WR" x="308.33"/></g><g id="k55-7"><use href="#WR" x="355"/></g><g id="k55-8"><use href="#BR" x="401.67"/></g><g id="k55-9"><use href="#BR" x="448.33"/></g></g>
<g id="row56" transform="translate(0 2922)"><g id="k56-1"><use href="#BL" x="75"/></g><g id="k56-2"><use href="#BL" x="121.67"/></g><g id="k56-3"><use href="#BL" x="168.33"/></g><g id="k56-4"><use href="#WL" x="215"/></g><g id="k56-5"><use href="#WL" x="261.67"/></g><g id="k56-6"><use href="#WL" x="308.33"/></g><g id="k56-7"><use href="#BL" x="355"/></g><g id="k56-8"><use href="#BL" x="401.67"/></g><g id="k56-9"><use href="#BL" x="448.33"/></g></g>
<g id="row57" transform="translate(0 2974)"><g id="k57-1"><use href="#BR" x="75"/></g><g id="k57-2"><use href="#WR" x="121.67"/></g><g id="k57-3"><use href="#WR" x="168.33"/></g><g id="k57-4"><use href="#BR" x="215"/></g><g id="k57-5"><use href="#WR" x="261.67"/></g><g id="k57-6"><use href="#BR" x="308.33"/></g><g id="k57-7"><use href="#WR" x="355"/></g><g id="k57-8"><use href="#WR" x="401.67"/></g><g id="k57-9"><use href="#BR" x="448.33"/></g></g>
<g id="row58" transform="translate(0 3026)"><g id="k58-1"><use href="#BL" x="75"/></g><g id="k58-2"><use href="#BL" x="121.67"/></g><g id="k58-3"><use href="#WL" x="168.33"/></g><g id="k58-4"><use href="#BL" x="215"/></g><g id="k58-5"><use href="#BL" x="261.67"/></g><g id="k58-6"><use href="#BL" x="308.33"/></g><g id="k58-7"><use href="#WL" x="355"/></g><g id="k58-8"><use href="#BL" x="401.67"/></g><g id="k58-9"><use href="#BL" x="448.33"/></g></g>
<g id="row59" transform="translate(0 3078)"><g id="k59-1"><use href="#BR" x="75"/></g><g id="k59-2"><use href="#BR" x="121.67"/></g><g id="k59-3"><use href="#BR" x="168.33"/></g><g id="k59-4"><use href="#BR" x="215"/></g><g id="k59-5"><use href="#BR" x="261.67"/></g><g id="k59-6"><use href="#BR" x="308.33"/></g><g id="k59-7"><use href="#BR" x="355"/></g><g id="k59-8"><use href="#BR" x="401.67"/></g><g id="k59-9"><use href="#BR" x="448.33"/></g></g>
<g id="row60" transform="translate(0 3130)"><g id="k60-1"><use href="#BL" x="75"/></g><g id="k60-2"><use href="#BL" x="121.67"/></g><g id="k60-3"><use href="#BL" x="168.33"/></g><g id="k60-4"><use href="#BL" x="215"/></g><g id="k60-5"><use href="#BL" x="261.67"/></g><g id="k60-6"><use href="#BL" x="308.33"/></g><g id="k60-7"><use href="#BL" x="355"/></g><g id="k60-8"><use href="#BL" x="401.67"/></g><g id="k60-9"><use href="#BL" x="448.33"/></g></g>
<g id="row61" transform="translate(0 3182)"><g id="k61-1"><use href="#BR" x="75"/></g><g id="k61-2"><use href="#BR" x="121.67"/></g><g id="k61-3"><use href="#BR" x="168.33"/></g><g id="k61-4"><use href="#BR" x="215"/></g><g id="k61-5"><use href="#BR" x="261.67"/></g><g id="k61-6"><use href="#BR" x="308.33"/></g><g id="k61-7"><use href="#BR" x="355"/></g><g id="k61-8"><use href="#BR" x="401.67"/></g><g id="k61-9"><use href="#BR" x="448.33"/></g></g>
<g id="row62" transform="translate(0 3234)"><g id="k62-1"><use href="#BL" x="75"/></g><g id="k62-2"><use href="#BL" x="121.67"/></g><g id="k62-3"><use href="#BL" x="168.33"/></g><g id="k62-4"><use href="#BL" x="215"/></g><g id="k62-5"><use href="#BL" x="261.67"/></g><g id="k62-6"><use href="#BL" x="308.33"/></g><g id="k62-7"><use href="#BL" x="355"/></g><g id="k62-8"><use href="#BL" x="401.67"/></g><g id="k62-9"><use href="#BL" x="448.33"/></g></g>
<g id="row63" transform="translate(0 3286)"><g id="k63-1"><use href="#BR" x="75"/></g><g id="k63-2"><use href="#BR" x="121.67"/></g><g id="k63-3"><use href="#BR" x="168.33"/></g><g id="k63-4"><use href="#BR" x="215"/></g><g id="k63-5"><use href="#BR" x="261.67"/></g><g id="k63-6"><use href="#BR" x="308.33"/></g><g id="k63-7"><use href="#BR" x="355"/></g><g id="k63-8"><use href="#BR" x="401.67"/></g><g id="k63-9"><use href="#BR" x="448.33"/></g></g>
<g id="row64" transform="translate(0 3338)"><g id="k64-1"><use href="#BL" x="75"/></g><g id="k64-2"><use href="#BL" x="121.67"/></g><g id="k64-3"><use href="#WL" x="168.33"/></g><g id="k64-4"><use href="#BL" x="215"/></g><g id="k64-5"><use href="#BL" x="261.67"/></g><g id="k64-6"><use href="#BL" x="308.33"/></g><g id="k64-7"><use href="#WL" x="355"/></g><g id="k64-8"><use href="#BL" x="401.67"/></g><g id="k64-9"><use href="#BL" x="448.33"/></g></g>
<g id="row65" transform="translate(0 3390)"><g id="k65-1"><use href="#BR" x="75"/></g><g id="k65-2"><use href="#WR" x="121.67"/></g><g id="k65-3"><use href="#WR" x="168.33"/></g><g id="k65-4"><use href="#BR" x="215"/></g><g id="k65-5"><use href="#WR" x="261.67"/></g><g id="k65-6"><use href="#BR" x="308.33"/></g><g id="k65-7"><use href="#WR" x="355"/></g><g id="k65-8"><use href="#WR" x="401.67"/></g><g id="k65-9"><use href="#BR" x="448.33"/></g></g>
<g id="row66" transform="translate(0 3442)"><g id="k66-1"><use href="#BL" x="75"/></g><g id="k66-2"><use href="#BL" x="121.67"/></g><g id="k66-3"><use href="#BL" x="168.33"/></g><g id="k66-4"><use href="#WL" x="215"/></g><g id="k66-5"><use href="#WL" x="261.67"/></g><g id="k66-6"><use href="#WL" x="308.33"/></g><g id="k66-7"><use href="#BL" x="355"/></g><g id="k66-8"><use href="#BL" x="401.67"/></g><g id="k66-9"><use href="#BL" x="448.33"/></g></g>
<g id="row67" transform="translate(0 3494)"><g id="k67-1"><use href="#BR" x="75"/></g><g id="k67-2"><use href="#BR" x="121.67"/></g><g id="k67-3"><use href="#WR" x="168.33"/></g><g id="k67-4"><use href="#WR" x="215"/></g><g id="k67-5"><use href="#BR" x="261.67"/></g><g id="k67-6"><use href="#WR" x="308.33"/></g><g id="k67-7"><use href="#WR" x="355"/></g><g id="k67-8"><use href="#BR" x="401.67"/></g><g id="k67-9"><use href="#BR" x="448.33"/></g></g>
<g id="row68" transform="translate(0 3546)"><g id="k68-1"><use href="#BL" x="75"/></g><g id="k68-2"><use href="#BL" x="121.67"/></g><g id="k68-3"><use href="#BL" x="168.33"/></g><g id="k68-4"><use href="#WL" x="215"/></g><g id="k68-5"><use href="#WL" x="261.67"/></g><g id="k68-6"><use href="#WL" x="308.33"/></g><g id="k68-7"><use href="#BL" x="355"/></g><g id="k68-8"><use href="#BL" x="401.67"/></g><g id="k68-9"><use href="#BL" x="448.33"/></g></g>
<g id="row69" transform="translate(0 3598)"><g id="k69-1"><use href="#BR" x="75"/></g><g id="k69-2"><use href="#WR" x="121.67"/></g><g id="k69-3"><use href="#WR" x="168.33"/></g><g id="k69-4"><use href="#BR" x="215"/></g><g id="k69-5"><use href="#WR" x="261.67"/></g><g id="k69-6"><use href="#BR" x="308.33"/></g><g id="k69-7"><use href="#WR" x="355"/></g><g id="k69-8"><use href="#WR" x="401.67"/></g><g id="k69-9"><use href="#BR" x="448.33"/></g></g>
<g id="row70" transform="translate(0 3650)"><g id="k70-1"><use href="#BL" x="75"/></g><g id="k70-2"><use href="#BL" x="121.67"/></g><g id="k70-3"><use href="#WL" x="168.33"/></g><g id="k70-4"><use href="#BL" x="215"/></g><g id="k70-5"><use href="#BL" x="261.67"/></g><g id="k70-6"><use href="#BL" x="308.33"/></g><g id="k70-7"><use href="#WL" x="355"/></g><g id="k70-8"><use href="#BL" x="401.67"/></g><g id="k70-9"><use href="#BL" x="448.33"/></g></g>
<g id="row71" transform="translate(0 3702)"><g id="k71-1"><use href="#BR" x="75"/></g><g id="k71-2"><use href="#BR" x="121.67"/></g><g id="k71-3"><use href="#BR" x="168.33"/></g><g id="k71-4"><use href="#BR" x="215"/></g><g id="k71-5"><use href="#BR" x="261.67"/></g><g id="k71-6"><use href="#BR" x="308.33"/></g><g id="k71-7"><use href="#BR" x="355"/></g><g id="k71-8"><use href="#BR" x="401.67"/></g><g id="k71-9"><use href="#BR" x="448.33"/></g></g>
<g id="row72" transform="translate(0 3754)"><g id="k72-1"><use href="#BL" x="75"/></g><g id="k72-2"><use href="#BL" x="121.67"/></g><g id="k72-3"><use href="#BL" x="168.33"/></g><g id="k72-4"><use href="#BL" x="215"/></g><g id="k72-5"><use href="#BL" x="261.67"/></g><g id="k72-6"><use href="#BL" x="308.33"/></g><g id="k72-7"><use href="#BL" x="355"/></g><g id="k72-8"><use href="#BL" x="401.67"/></g><g id="k72-9"><use href="#BL" x="448.33"/></g></g>
<g id="row73" transform="translate(0 3806)"><g id="k73-1"><use href="#BR" x="75"/></g><g id="k73-2"><use href="#BR" x="121.67"/></g><g id="k73-3"><use href="#BR" x="168.33"/></g><g id="k73-4"><use href="#BR" x="215"/></g><g id="k73-5"><use href="#BR" x="261.67"/></g><g id="k73-6"><use href="#BR" x="308.33"/></g><g id="k73-7"><use href="#BR" x="355"/></g><g id="k73-8"><use href="#BR" x="401.67"/></g><g id="k73-9"><use href="#BR" x="448.33"/></g></g>
</g>
<text class="wm" x="261.67" y="1964" textLength="137" lengthAdjust="spacingAndGlyphs">BRACELETBOOK.COM</text>
</svg>
